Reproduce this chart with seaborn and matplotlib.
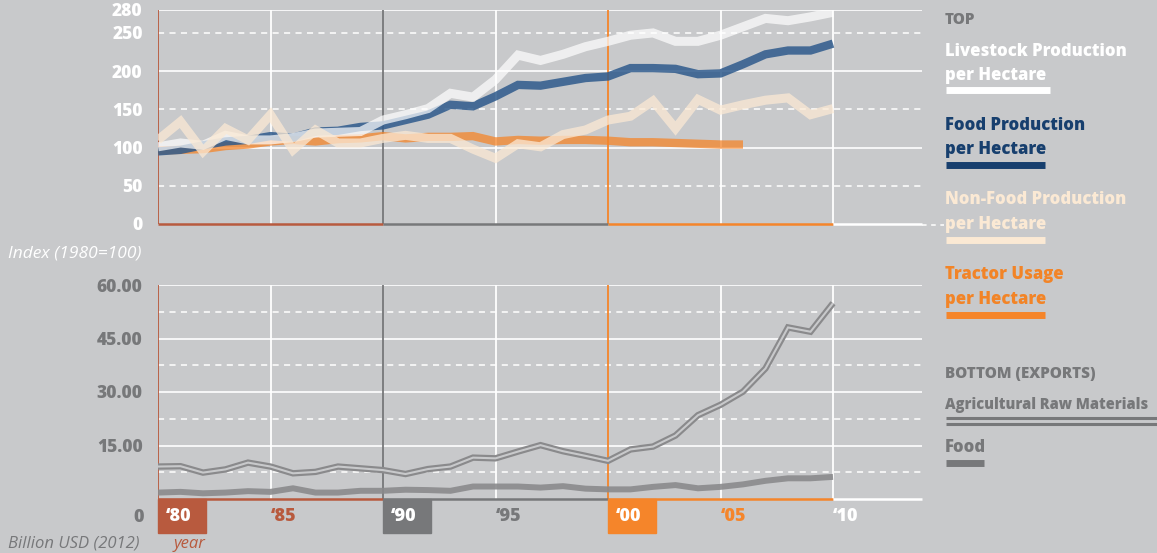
import seaborn as sns
import pandas as pd
import matplotlib as mpl
from matplotlib import pyplot as plt
import matplotlib.transforms as mtransforms
from matplotlib.patches import Rectangle

mpl.use("Agg")

# data
years = list(range(1980, 2011))
livestock = [101, 106, 103, 116, 110, 110, 113, 119, 120, 121, 136, 143, 151, 171, 166, 189,
             221, 214, 222, 232, 239, 247, 250, 239, 239, 247, 258, 269, 266, 271, 277]
food_prod = [95, 97, 103, 108, 110, 115, 113, 121, 122, 127, 129, 136, 143, 156, 154, 167,
             182, 181, 186, 191, 193, 204, 204, 203, 196, 197, 209, 222, 227, 227, 236]
nonfood_prod = [110, 134, 95, 125, 110, 143, 97, 123, 106, 106, 112, 116, 112, 112, 98, 86,
                105, 101, 117, 123, 136, 141, 161, 125, 163, 149, 156, 162, 165, 143, 151]
tractor_years = list(range(1980, 2007))
tractor = [96, 97, 98, 102, 104, 108, 110, 108, 111, 112, 115, 112, 114, 114, 115, 108,
           110, 109, 110, 110, 109, 107, 107, 106, 105, 104, 104]

raw_materials = [9.1, 9.2, 7.4, 8.3, 10.2, 9.1, 7.2, 7.6, 9.1, 8.6, 8.1, 7.0, 8.4, 9.1, 11.6, 11.4,
                 13.3, 15.1, 13.4, 12.1, 10.7, 13.9, 14.7, 17.8, 23.5, 26.4, 30.1, 36.6, 48.1, 46.9, 54.9]
food_exports = [1.8, 2.0, 1.6, 1.8, 2.2, 2.0, 3.0, 1.8, 1.8, 2.3, 2.3, 2.6, 2.5, 2.3, 3.5, 3.5,
                3.5, 3.2, 3.6, 2.9, 2.7, 2.7, 3.4, 3.9, 3.0, 3.4, 4.1, 5.1, 5.8, 5.8, 6.2]

top_ticks = [0, 50, 100, 150, 200, 250, 280]
top_solid = [100, 200, 280]
top_dashed = [50, 150, 250]
bot_ticks = [15, 30, 45, 60]
bot_tick_labels = ["15.00", "30.00", "45.00", "60.00"]
bot_dashed = [7.5, 22.5, 37.5, 52.5]
year_ticks = [1980, 1985, 1990, 1995, 2000, 2005, 2010]
year_labels = ["\u201880", "\u201885", "\u201890", "\u201895", "\u201800", "\u201805", "\u201810"]

BG = "#c8c9cb"
RED = "#b85a3e"
DGRAY = "#77787a"
ORANGE = "#f5852a"
BLUE = "#2e5a8c"
CREAM = "#fbe9d4"
LGRAY = "#8a8a8c"
HEAVY = 800

sns.set_style("white", {"axes.facecolor": BG, "figure.facecolor": BG})
plt.rcParams["font.family"] = ["Open Sans", "DejaVu Sans"]

top_df = pd.DataFrame({"year": years, "livestock": livestock, "food": food_prod,
                       "nonfood": nonfood_prod})
tractor_df = pd.DataFrame({"year": tractor_years, "tractor": tractor})
bot_df = pd.DataFrame({"year": years, "raw": raw_materials, "food": food_exports})

fig = plt.figure(figsize=(11.57, 5.53), dpi=100)
fig.patch.set_facecolor(BG)
W, H = 1157, 553
x0, x1 = 158, 922
xmax = 1980 + (x1 - x0) / 22.5
ax1 = fig.add_axes([x0 / W, 1 - 224 / H, (x1 - x0) / W, 214 / H])
ax2 = fig.add_axes([x0 / W, 1 - 499 / H, (x1 - x0) / W, 214 / H])


def frame(ax, solid, dashed, top):
    ax.set_xlim(1980, xmax)
    ax.set_ylim(0, top)
    for s in ax.spines.values():
        s.set_visible(False)
    for v in solid:
        ax.axhline(v, color="white", lw=1.2, zorder=1)
    for v in dashed:
        ax.axhline(v, color="white", lw=1.1, ls=(0, (4, 3.5)), zorder=1)
    vcols = [RED, "white", DGRAY, "white", ORANGE, "white", "white"]
    for yr, c in zip(year_ticks, vcols):
        ax.axvline(yr, color=c, lw=1.3, zorder=2)
    # coloured baseline per decade
    for (a, b), c in zip([(1980, 1990), (1990, 2000), (2000, 2010), (2010, xmax)],
                         [RED, DGRAY, ORANGE, "white"]):
        ax.plot([a, b], [0, 0], color=c, lw=1.8, zorder=2, clip_on=False,
                solid_capstyle="butt")
    ax.set_xticks([])
    ax.tick_params(axis="y", length=0, pad=11)


frame(ax1, top_solid, top_dashed, 280)
frame(ax2, bot_ticks, bot_dashed, 60)

kw = dict(legend=False, solid_joinstyle="miter", solid_capstyle="butt")
sns.lineplot(data=tractor_df, x="year", y="tractor", ax=ax1, color=ORANGE, alpha=0.75, lw=6, zorder=3, **kw)
sns.lineplot(data=top_df, x="year", y="food", ax=ax1, color=BLUE, alpha=0.85, lw=6, zorder=4, **kw)
sns.lineplot(data=top_df, x="year", y="livestock", ax=ax1, color="white", alpha=0.7, lw=6.5, zorder=5, **kw)
sns.lineplot(data=top_df, x="year", y="nonfood", ax=ax1, color=CREAM, alpha=0.75, lw=6.5, zorder=6, **kw)

sns.lineplot(data=bot_df, x="year", y="food", ax=ax2, color=LGRAY, alpha=0.9, lw=4.3, zorder=3, **kw)
sns.lineplot(data=bot_df, x="year", y="raw", ax=ax2, color=LGRAY, lw=4.6, zorder=4, **kw)
sns.lineplot(data=bot_df, x="year", y="raw", ax=ax2, color=BG, lw=1.5, zorder=5, **kw)

for ax in (ax1, ax2):
    ax.set_xlabel("")
    ax.set_ylabel("")
    ax.set_xticks([])

ax1.set_yticks(top_ticks)
ax1.set_yticklabels([str(t) for t in top_ticks], color="white", fontweight=HEAVY, fontsize=12.5)
ax2.set_yticks(bot_ticks)
ax2.set_yticklabels(bot_tick_labels, color=DGRAY, fontweight=HEAVY, fontsize=12.5)

# year labels under the bottom chart
tr = mtransforms.blended_transform_factory(ax2.transData, ax2.transAxes)
box_cols = {1980: RED, 1990: DGRAY, 2000: ORANGE}
txt_cols = {1985: RED, 1995: DGRAY, 2005: ORANGE, 2010: "white"}
for yr, lab in zip(year_ticks, year_labels):
    if yr in box_cols:
        ax2.add_patch(Rectangle((yr, -0.159), 2.12, 0.159, transform=tr,
                                color=box_cols[yr], clip_on=False, zorder=2))
        ax2.text(yr + 0.36, -0.082, lab, transform=tr, color="white", fontsize=13,
                 fontweight=HEAVY, va="center", ha="left", zorder=3)
    else:
        ax2.text(yr, -0.082, lab, transform=tr, color=txt_cols[yr], fontsize=13,
                 fontweight=HEAVY, va="center", ha="left")

# overlay in pixel coordinates for annotations and legend
ov = fig.add_axes([0, 0, 1, 1])
ov.set_xlim(0, W)
ov.set_ylim(H, 0)
ov.axis("off")
ov.patch.set_alpha(0)

ov.text(144, 517, "0", color=DGRAY, fontsize=13, fontweight=HEAVY, ha="right", va="center")
ov.text(8, 258, "Index (1980=100)", color="white", fontsize=12.5, style="italic", va="baseline")
ov.text(8, 548, "Billion USD (2012)", color=DGRAY, fontsize=12, style="italic", va="baseline")
ov.text(174, 548, "year", color=RED, fontsize=12, style="italic", va="baseline")
ov.plot([922, 944], [225, 225], color="white", lw=1.1, ls=(0, (3, 3)))

lx = 945
entries = [
    ("Livestock Production", "per Hectare", "white", "white", 56, 80, 90),
    ("Food Production", "per Hectare", "#173f6e", "#173f6e", 130, 154, 164.5),
    ("Non-Food Production", "per Hectare", CREAM, CREAM, 204, 229, 239.5),
    ("Tractor Usage", "per Hectare", "#f28427", ORANGE, 279, 304, 314.5),
]
ov.text(lx, 24, "TOP", color=DGRAY, fontsize=11, fontweight=HEAVY, va="baseline")
for l1, l2, tc, bc, b1, b2, by in entries:
    ov.text(lx, b1, l1, color=tc, fontsize=12, fontweight=HEAVY, va="baseline")
    ov.text(lx, b2, l2, color=tc, fontsize=12, fontweight=HEAVY, va="baseline")
    ov.plot([lx + 1, 1050 if l1.startswith("Live") else 1045], [by, by], color=bc, lw=5,
            solid_capstyle="butt")

ov.text(lx, 378, "BOTTOM (EXPORTS)", color=DGRAY, fontsize=11, fontweight=HEAVY, va="baseline")
ov.text(lx, 409, "Agricultural Raw Materials", color=DGRAY, fontsize=10.5, fontweight=HEAVY,
        va="baseline")
ov.plot([lx + 1, W], [418.3, 418.3], color=DGRAY, lw=2.2, solid_capstyle="butt")
ov.plot([lx + 1, W], [423.5, 423.5], color=DGRAY, lw=2.2, solid_capstyle="butt")
ov.text(lx, 452.5, "Food", color=DGRAY, fontsize=12, fontweight=HEAVY, va="baseline")
ov.plot([lx + 1, 984], [463, 463], color=DGRAY, lw=5, solid_capstyle="butt")

fig.savefig("out.png", dpi=100, facecolor=BG)
